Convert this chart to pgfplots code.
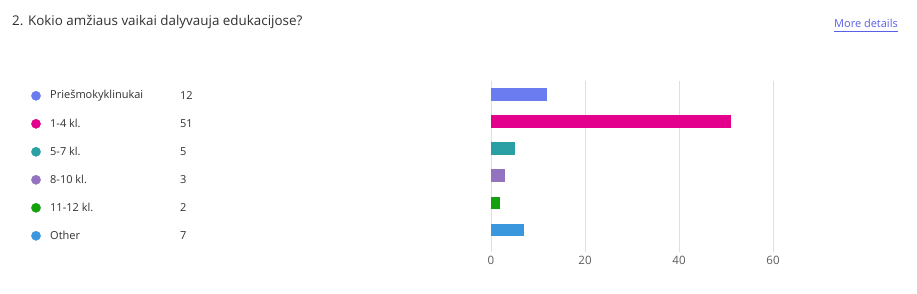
\documentclass[border=0pt]{standalone}
\usepackage{fontspec}
\setmainfont{Open Sans}
\usepackage{pgfplots}
\pgfplotsset{compat=1.18}
\definecolor{cA}{HTML}{6A7CF0}
\definecolor{cB}{HTML}{E3008C}
\definecolor{cC}{HTML}{2AA0A4}
\definecolor{cD}{HTML}{9373C0}
\definecolor{cE}{HTML}{13A10E}
\definecolor{cF}{HTML}{3A96DD}
\definecolor{txt}{HTML}{323130}
\definecolor{tick}{HTML}{605E5C}
\definecolor{gridc}{HTML}{E1DFDD}
\definecolor{link}{HTML}{5B5FE6}
\tikzset{lg/.style={anchor=west, inner sep=0pt, text=txt, font=\fontsize{11}{13}\selectfont}}
\begin{document}
\begin{tikzpicture}[x=1pt,y=1pt]
\useasboundingbox (0,0) rectangle (917,294);
\fill[white] (0,0) rectangle (917,294);
\node[anchor=west,inner sep=0pt,text=txt,font=\fontsize{13.4}{15}\selectfont] at (12,272) {2. Kokio amžiaus vaikai dalyvauja edukacijose?};
\node[anchor=east,inner sep=0pt,text=link,font=\fontsize{11}{13}\selectfont] (md) at (898,271) {More details};
\draw[link,line width=1pt] (md.west|-0,262.5) -- (md.east|-0,262.5);
% bars
\begin{axis}[
  at={(491pt,42pt)}, anchor=south west,
  scale only axis, width=282pt, height=171pt,
  xmin=0, xmax=60, ymin=81, ymax=252, y dir=reverse,
  axis line style={draw=none},
  xtick={0,20,40,60}, ytick=\empty,
  major tick length=0pt,
  xmajorgrids, grid style={gridc, line width=0.8pt},
  ticklabel style={text=tick, font=\fontsize{11.5}{13}\selectfont},
  /pgf/number format/assume math mode=true,
  xticklabel style={yshift=-1pt},
  clip=false,
]
\addplot[xbar, bar width=12.7pt, bar shift=0pt, fill=cA, draw=none] coordinates {(12,94.5)};
\addplot[xbar, bar width=12.7pt, bar shift=0pt, fill=cB, draw=none] coordinates {(51,121.6)};
\addplot[xbar, bar width=12.7pt, bar shift=0pt, fill=cC, draw=none] coordinates {(5,148.7)};
\addplot[xbar, bar width=12.7pt, bar shift=0pt, fill=cD, draw=none] coordinates {(3,175.8)};
\addplot[xbar, bar width=12.7pt, bar shift=0pt, fill=cE, draw=none] coordinates {(2,202.9)};
\addplot[xbar, bar width=12.7pt, bar shift=0pt, fill=cF, draw=none] coordinates {(7,230)};
\end{axis}
% legend
\begin{axis}[
  at={(0pt,42pt)}, anchor=south west,
  scale only axis, width=917pt, height=171pt,
  xmin=0, xmax=917, ymin=81, ymax=252, y dir=reverse,
  hide axis, clip=false,
]
\addplot[only marks, mark=*, mark size=4.6pt, cA] coordinates {(36,95.8)};
\addplot[only marks, mark=*, mark size=4.6pt, cB] coordinates {(36,123.8)};
\addplot[only marks, mark=*, mark size=4.6pt, cC] coordinates {(36,151.8)};
\addplot[only marks, mark=*, mark size=4.6pt, cD] coordinates {(36,179.8)};
\addplot[only marks, mark=*, mark size=4.6pt, cE] coordinates {(36,207.8)};
\addplot[only marks, mark=*, mark size=4.6pt, cF] coordinates {(36,235.8)};
\node[lg] at (axis cs:50,95.8) {Priešmokyklinukai};
\node[lg] at (axis cs:50,123.8) {1-4 kl.};
\node[lg] at (axis cs:50,151.8) {5-7 kl.};
\node[lg] at (axis cs:50,179.8) {8-10 kl.};
\node[lg] at (axis cs:50,207.8) {11-12 kl.};
\node[lg] at (axis cs:50,235.8) {Other};
\node[lg] at (axis cs:180,95.8) {12};
\node[lg] at (axis cs:180,123.8) {51};
\node[lg] at (axis cs:180,151.8) {5};
\node[lg] at (axis cs:180,179.8) {3};
\node[lg] at (axis cs:180,207.8) {2};
\node[lg] at (axis cs:180,235.8) {7};
\end{axis}
\end{tikzpicture}
\end{document}
